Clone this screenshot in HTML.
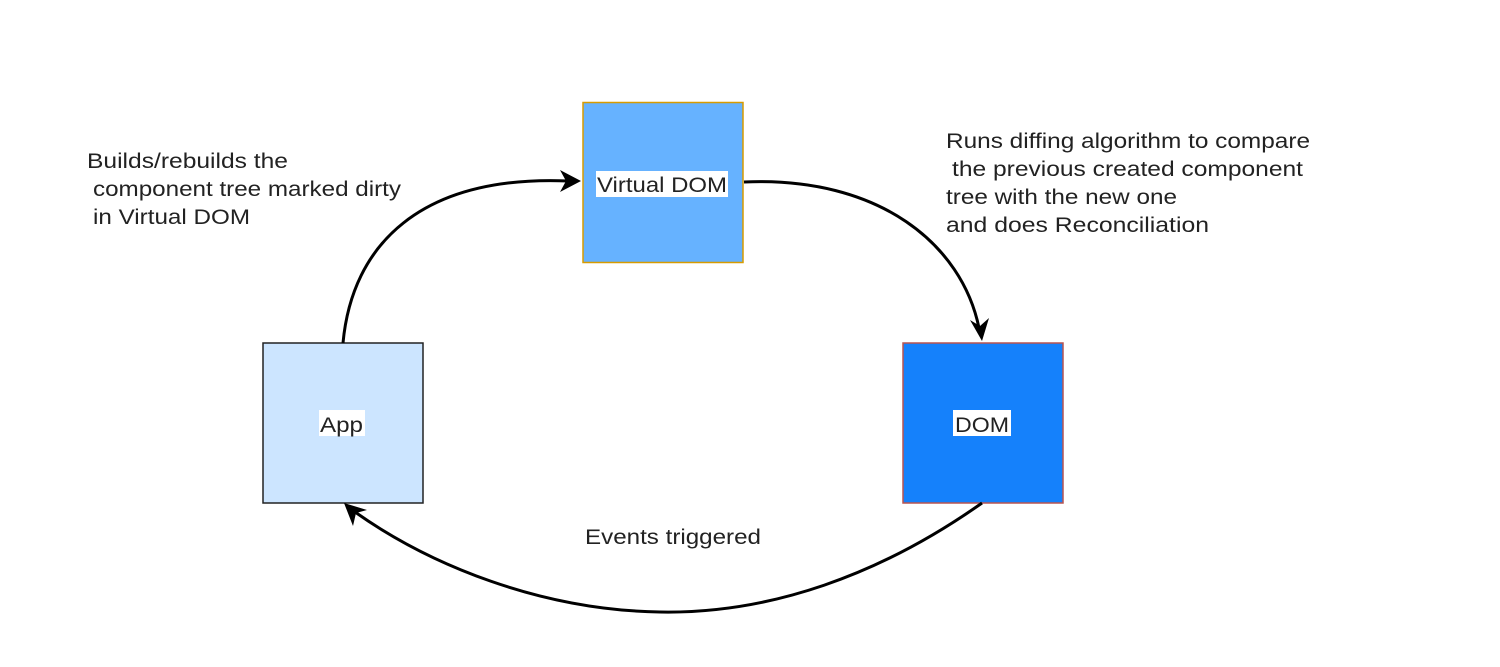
<!DOCTYPE html>
<html><head><style>
body{margin:0;background:#fff;}
svg text{font-family:"Liberation Sans",sans-serif;font-size:21px;fill:#222;}
</style></head><body>
<svg width="1500" height="662" viewBox="0 0 1500 662" xmlns="http://www.w3.org/2000/svg">
<rect x="583" y="102.5" width="160" height="160" fill="#66b2ff" stroke="#d79b00" stroke-width="1.5"/>
<rect x="263" y="343" width="160" height="160" fill="#cce5ff" stroke="#222" stroke-width="1.5"/>
<rect x="903" y="343" width="160" height="160" fill="#1581fb" stroke="#b85450" stroke-width="1.5"/>
<g fill="none" stroke="#000" stroke-width="3">
<path d="M343,343 C352,245 420,175 568,181"/>
<path d="M744,182 C880,176 962,245 979,328"/>
<path d="M982,503 C880,575 770,614 660,612 C540,610 430,565 355,512"/>
</g>
<g fill="#000">
<path d="M581,181 L560,170 L566,181 L560,192 Z"/>
<path d="M982,341 L970,320 L980,326 L989,318 Z"/>
<path d="M344,503 L367,510 L356,513 L353,526 Z"/>
</g>
<rect x="596" y="171" width="132" height="26" fill="#fff"/>
<text x="597" y="192" textLength="130" lengthAdjust="spacingAndGlyphs">Virtual DOM</text>
<rect x="319" y="410" width="46" height="26" fill="#fff"/>
<text x="320" y="432" textLength="43" lengthAdjust="spacingAndGlyphs">App</text>
<rect x="953" y="410" width="58" height="26" fill="#fff"/>
<text x="955" y="432" textLength="54" lengthAdjust="spacingAndGlyphs">DOM</text>
<text x="87" y="168" textLength="201" lengthAdjust="spacingAndGlyphs">Builds/rebuilds the</text>
<text x="93" y="196" textLength="308" lengthAdjust="spacingAndGlyphs">component tree marked dirty</text>
<text x="93" y="224" textLength="157" lengthAdjust="spacingAndGlyphs">in Virtual DOM</text>
<text x="946" y="148" textLength="364" lengthAdjust="spacingAndGlyphs">Runs diffing algorithm to compare</text>
<text x="952" y="176" textLength="351" lengthAdjust="spacingAndGlyphs">the previous created component</text>
<text x="946" y="204" textLength="231" lengthAdjust="spacingAndGlyphs">tree with the new one</text>
<text x="946" y="232" textLength="263" lengthAdjust="spacingAndGlyphs">and does Reconciliation</text>
<text x="585" y="544" textLength="176" lengthAdjust="spacingAndGlyphs">Events triggered</text>
</svg>
</body></html>
